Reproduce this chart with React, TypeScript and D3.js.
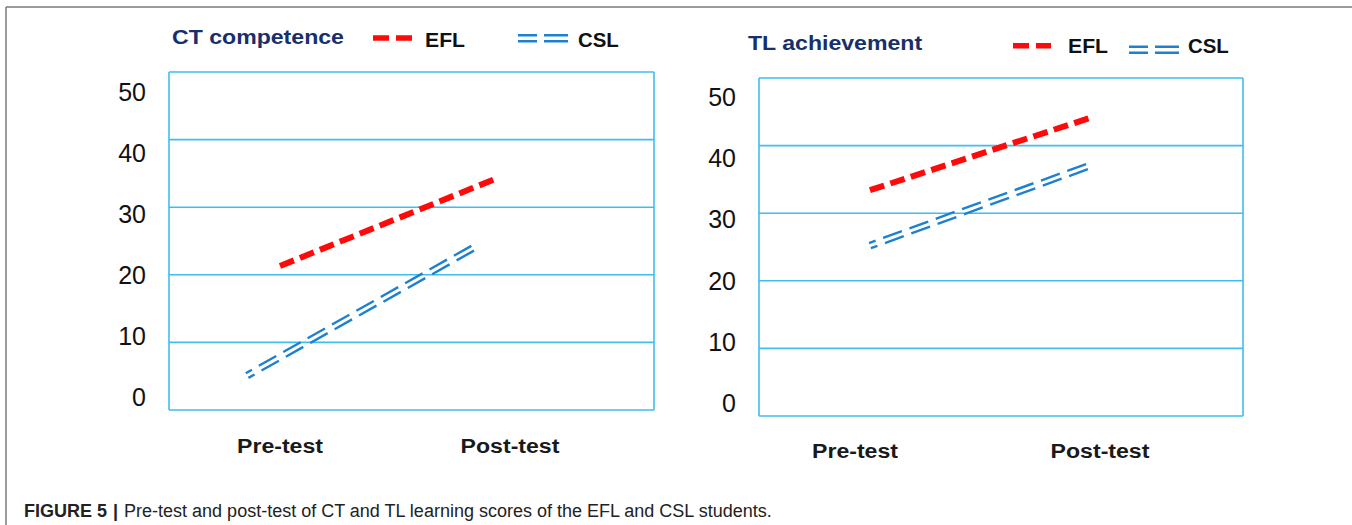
import React from "react";
import * as d3 from "d3";

// ---------- data ----------
const categories = ["Pre-test", "Post-test"];
const yTicks = [0, 10, 20, 30, 40, 50];
const seriesNames = ["EFL", "CSL"];
const panelTitles = ["CT competence", "TL achievement"];

// scores at the two ends of each line
const ctEFL = [21.3, 34.4];
const ctCSL = [5.1, 24.3];
const tlEFL = [33.4, 44.2];
const tlCSL = [25.2, 37.1];

// where each line starts/ends along the category axis (0 = Pre-test, 1 = Post-test)
const ctEFLx = [0, 0.952];
const ctCSLx = [-0.143, 0.857];
const tlEFLx = [0.061, 0.967];
const tlCSLx = [0.061, 0.963];

const captionLabel = "FIGURE 5";
const captionText = "Pre-test and post-test of CT and TL learning scores of the EFL and CSL students.";

// ---------- styles ----------
const RED = "#ff0a0a";
const BLUE = "#1d80d0";
const GRID = "#3fbdef";
const NAVY = "#172f6c";
const FONT = "'Liberation Sans', Arial, sans-serif";

type Layout = {
  x0: number; x1: number; yTop: number; yBottom: number;
  catX: [number, number];
  labelY: [number, number];
  tickX: number;
  catBaseline: number;
  titleX: number; titleBaseline: number;
  eflSample: [number, number]; eflSampleY: number; eflTextX: number;
  cslSample: [number, number]; cslSampleY: number; cslTextX: number;
  legendBaseline: number;
};

const layouts: Layout[] = [
  {
    x0: 169, x1: 654, yTop: 72, yBottom: 410,
    catX: [280, 510], labelY: [397, 92], tickX: 146, catBaseline: 453,
    titleX: 172, titleBaseline: 44,
    eflSample: [373, 412], eflSampleY: 38, eflTextX: 425,
    cslSample: [518, 568], cslSampleY: 38.3, cslTextX: 578,
    legendBaseline: 46.5,
  },
  {
    x0: 759, x1: 1243, yTop: 78, yBottom: 416,
    catX: [855, 1100], labelY: [403, 97], tickX: 736, catBaseline: 458,
    titleX: 748, titleBaseline: 50,
    eflSample: [1013, 1051], eflSampleY: 45.7, eflTextX: 1068,
    cslSample: [1129, 1179], cslSampleY: 49.7, cslTextX: 1188,
    legendBaseline: 53,
  },
];

const panels = [
  { title: panelTitles[0], efl: ctEFL, eflX: ctEFLx, csl: ctCSL, cslX: ctCSLx },
  { title: panelTitles[1], efl: tlEFL, eflX: tlEFLx, csl: tlCSL, cslX: tlCSLx },
];

function T(props: {
  x: number; y: number; sx?: number; size: number; weight?: string | number;
  fill?: string; anchor?: string; children: React.ReactNode;
}) {
  const { x, y, sx = 1.1, size, weight = "normal", fill = "#111", anchor = "start", children } = props;
  return (
    <text
      transform={`translate(${x},${y}) scale(${sx},1)`}
      fontFamily={FONT}
      fontSize={size}
      fontWeight={weight}
      fill={fill}
      textAnchor={anchor as any}
    >
      {children}
    </text>
  );
}

function DoubleLine(props: { p0: [number, number]; p1: [number, number]; sep: number; dash: string; offset: number; width: number }) {
  const { p0, p1, sep, dash, offset, width } = props;
  const dx = p1[0] - p0[0];
  const dy = p1[1] - p0[1];
  const len = Math.hypot(dx, dy) || 1;
  const nx = (-dy / len) * (sep / 2);
  const ny = (dx / len) * (sep / 2);
  const line = d3.line();
  return (
    <g fill="none" stroke={BLUE} strokeWidth={width} strokeDasharray={dash} strokeDashoffset={offset}>
      <path d={line([[p0[0] + nx, p0[1] + ny], [p1[0] + nx, p1[1] + ny]]) || ""} />
      <path d={line([[p0[0] - nx, p0[1] - ny], [p1[0] - nx, p1[1] - ny]]) || ""} />
    </g>
  );
}

function Panel({ L, P }: { L: Layout; P: typeof panels[number] }) {
  const y = d3.scaleLinear().domain([0, 50]).range([L.yBottom, L.yTop]);
  const x = d3.scaleLinear().domain([0, 1]).range(L.catX);
  const yLab = d3.scaleLinear().domain([0, 50]).range(L.labelY);
  const line = d3.line<[number, number]>().x((d) => x(d[0])).y((d) => y(d[1]));
  const eflPts: [number, number][] = P.eflX.map((xv, i) => [xv, P.efl[i]]);
  const c0: [number, number] = [x(P.cslX[0]), y(P.csl[0])];
  const c1: [number, number] = [x(P.cslX[1]), y(P.csl[1])];
  return (
    <g>
      {/* grid */}
      {yTicks.map((t) => (
        <line key={t} x1={L.x0} x2={L.x1} y1={y(t)} y2={y(t)} stroke={GRID} strokeWidth={1.6} />
      ))}
      <line x1={L.x0} x2={L.x0} y1={y(0)} y2={y(50)} stroke={GRID} strokeWidth={1.6} />
      <line x1={L.x1} x2={L.x1} y1={y(0)} y2={y(50)} stroke={GRID} strokeWidth={1.6} />
      {/* tick labels */}
      {yTicks.map((t) => (
        <T key={t} x={L.tickX} y={yLab(t) + 9} size={25} sx={1.0} anchor="end" fill="#111">
          {String(t)}
        </T>
      ))}
      {/* category labels */}
      {categories.map((c, i) => (
        <T key={c} x={x(i)} y={L.catBaseline} size={21} sx={1.1} weight="bold" anchor="middle" fill="#1a1a1a">
          {c}
        </T>
      ))}
      {/* series */}
      <DoubleLine p0={c0} p1={c1} sep={5.4} width={2.4} dash="20 8" offset={13} />
      <path d={line(eflPts) || ""} fill="none" stroke={RED} strokeWidth={6} strokeDasharray="15 6.5" />
      {/* title + legend */}
      <T x={L.titleX} y={L.titleBaseline} size={21} sx={1.1} weight="bold" fill={NAVY}>
        {P.title}
      </T>
      <line x1={L.eflSample[0]} x2={L.eflSample[1]} y1={L.eflSampleY} y2={L.eflSampleY} stroke={RED} strokeWidth={5.5} strokeDasharray="16 7" />
      <T x={L.eflTextX} y={L.legendBaseline} size={20} sx={1.06} weight="bold" fill="#111">
        {seriesNames[0]}
      </T>
      <g stroke={BLUE} strokeWidth={2.4} strokeDasharray="19 7 24">
        <line x1={L.cslSample[0]} x2={L.cslSample[1]} y1={L.cslSampleY - 3} y2={L.cslSampleY - 3} />
        <line x1={L.cslSample[0]} x2={L.cslSample[1]} y1={L.cslSampleY + 3} y2={L.cslSampleY + 3} />
      </g>
      <T x={L.cslTextX} y={L.legendBaseline} size={20} sx={1.02} weight="bold" fill="#111">
        {seriesNames[1]}
      </T>
    </g>
  );
}

export default function App() {
  return (
    <svg
      width={1352}
      height={525}
      viewBox="0 0 1352 525"
      style={{ position: "absolute", left: 0, top: 0, background: "#fff" }}
    >
      <rect x={0} y={0} width={1352} height={525} fill="#fff" />
      {/* frame */}
      <line x1={6} x2={1352} y1={7} y2={7} stroke="#7a7a7a" strokeWidth={1.5} />
      <line x1={6} x2={6} y1={7} y2={525} stroke="#7a7a7a" strokeWidth={1.5} />
      {panels.map((P, i) => (
        <Panel key={i} L={layouts[i]} P={P} />
      ))}
      <text x={24} y={517} fontFamily={FONT} fontSize={18} fill="#222">
        <tspan fontWeight="bold">{captionLabel}</tspan>
        <tspan dx={6} fontWeight="bold">|</tspan>
        <tspan dx={6}>{captionText}</tspan>
      </text>
    </svg>
  );
}
